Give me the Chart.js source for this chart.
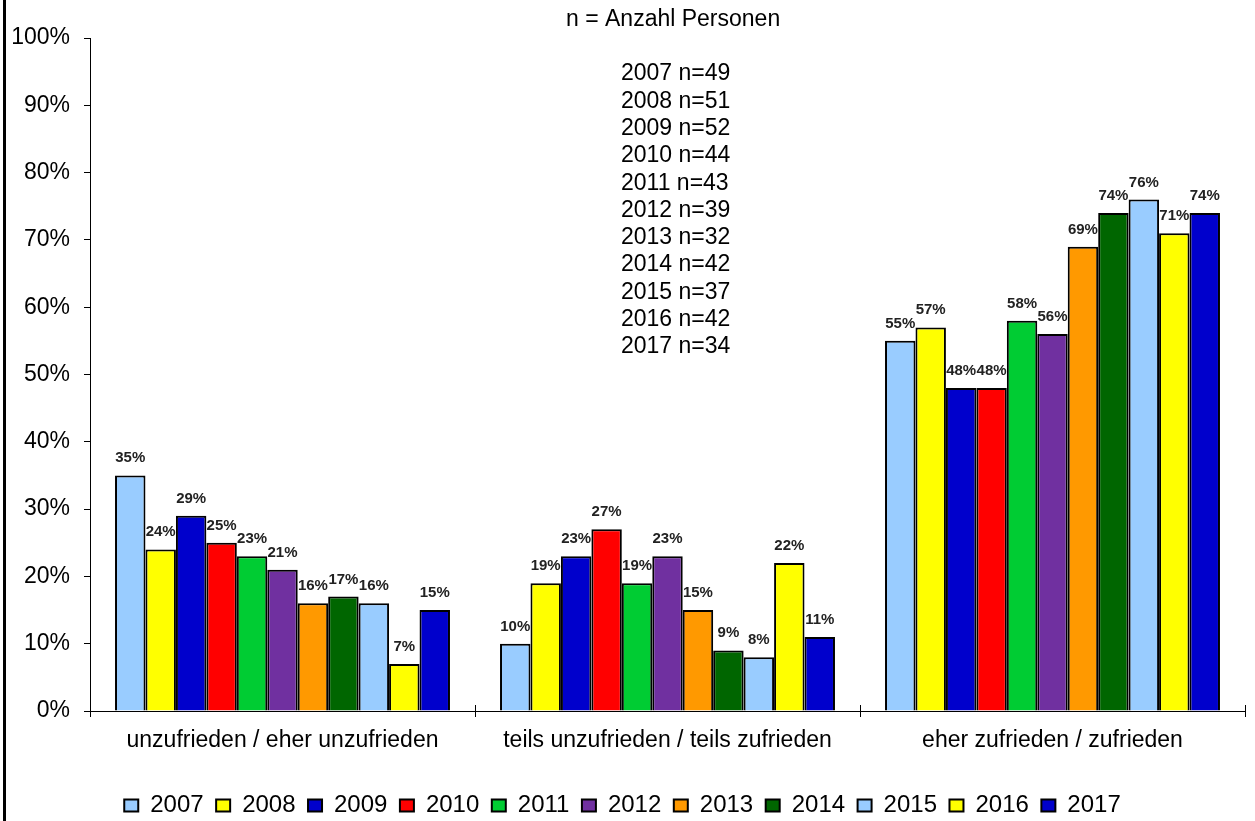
<!DOCTYPE html>
<html><head><meta charset="utf-8">
<script src="https://cdn.jsdelivr.net/npm/chart.js@4/dist/chart.umd.min.js"></script>
<style>html,body{margin:0;padding:0;background:#fff}#wrap{width:1255px;height:821px;position:relative}</style>
</head><body><div id="wrap"><canvas id="c" width="1255" height="821"></canvas></div>
<script>
const categories = ["unzufrieden / eher unzufrieden", "teils unzufrieden / teils zufrieden", "eher zufrieden / zufrieden"];
const years = ["2007","2008","2009","2010","2011","2012","2013","2014","2015","2016","2017"];
const sampleSizes = [49,51,52,44,43,39,32,42,37,42,34];
const v2007 = [35,10,55];
const v2008 = [24,19,57];
const v2009 = [29,23,48];
const v2010 = [25,27,48];
const v2011 = [23,19,58];
const v2012 = [21,23,56];
const v2013 = [16,15,69];
const v2014 = [17,9,74];
const v2015 = [16,8,76];
const v2016 = [7,22,71];
const v2017 = [15,11,74];
const seriesValues = [v2007,v2008,v2009,v2010,v2011,v2012,v2013,v2014,v2015,v2016,v2017];
const yTicks = [0,10,20,30,40,50,60,70,80,90,100];
const annotationTitle = "n = Anzahl Personen";

const colors = ["#99CCFF","#FFFF00","#0000CC","#FF0000","#00CC33","#7030A0","#FF9900","#006600","#99CCFF","#FFFF00","#0000CC"];
const FONT = "'Liberation Sans', Arial, sans-serif";

const datasets = years.map((y,i)=>({
  label: y, data: seriesValues[i], backgroundColor: colors[i],
  borderColor: "#000", borderWidth: 2, borderSkipped: 'bottom'
}));

const extras = {
  id: 'extras',
  beforeDraw(chart){
    const ctx = chart.ctx;
    ctx.save();
    ctx.fillStyle = '#fff'; ctx.fillRect(0,0,chart.width,chart.height);
    ctx.fillStyle = '#000'; ctx.fillRect(3,0,3,chart.height);
    ctx.restore();
  },
  afterDatasetsDraw(chart){
    const ctx = chart.ctx;
    ctx.save();
    ctx.font = "bold 15px " + FONT;
    ctx.fillStyle = '#222';
    ctx.textAlign = 'center'; ctx.textBaseline = 'alphabetic';
    chart.data.datasets.forEach((ds,di)=>{
      chart.getDatasetMeta(di).data.forEach((bar,i)=>{
        ctx.fillText(ds.data[i] + '%', bar.x, bar.y - 13);
      });
    });
    // x-axis tick crosses above the axis
    const xs = chart.scales.x, ya = chart.scales.y;
    const y0 = ya.getPixelForValue(0);
    ctx.strokeStyle = '#000'; ctx.lineWidth = 1;
    for (let i=0;i<=categories.length;i++){
      const px = Math.round(xs.left + i*(xs.width/categories.length)) + 0.5;
      ctx.beginPath(); ctx.moveTo(px, y0-6); ctx.lineTo(px, y0); ctx.stroke();
    }
    // annotation
    ctx.font = "23px " + FONT;
    ctx.fillStyle = '#000';
    ctx.textAlign = 'left'; ctx.textBaseline = 'middle';
    ctx.fillText(annotationTitle, 566, 20);
    years.forEach((y,i)=>{
      ctx.fillText(y + ' n=' + sampleSizes[i], 621, 74 + i*27.3);
    });
    ctx.restore();
  }
};

new Chart(document.getElementById('c'), {
  type: 'bar',
  data: { labels: categories, datasets },
  options: {
    responsive: false, animation: false,
    layout: { padding: { left: 0, right: 10, top: 38, bottom: 0 } },
    datasets: { bar: { categoryPercentage: 0.87, barPercentage: 1.0 } },
    plugins: {
      tooltip: { enabled: false },
      legend: {
        position: 'bottom',
        maxHeight: 40,
        labels: { font: { family: FONT, size: 24 }, color: '#000', boxWidth: 14, boxHeight: 12, padding: 12.5 }
      }
    },
    scales: {
      x: {
        offset: true,
        grid: { display: true, drawOnChartArea: false, offset: true, color: '#000', tickLength: 6, lineWidth: 1 },
        border: { display: true, color: '#000', width: 1 },
        ticks: { font: { family: FONT, size: 23 }, color: '#000', padding: 10, maxRotation: 0 },
        afterFit(s){ s.height = 70; }
      },
      y: {
        min: 0, max: 100,
        afterBuildTicks(s){ s.ticks = yTicks.map(v=>({value:v})); },
        grid: { display: true, drawOnChartArea: false, color: '#000', tickLength: 6 },
        border: { display: true, color: '#000', width: 1 },
        ticks: { font: { family: FONT, size: 23 }, color: '#000', padding: 14, callback: v => v + '%' },
        afterFit(s){ s.width = 90; }
      }
    }
  },
  plugins: [extras]
});
</script></body></html>
